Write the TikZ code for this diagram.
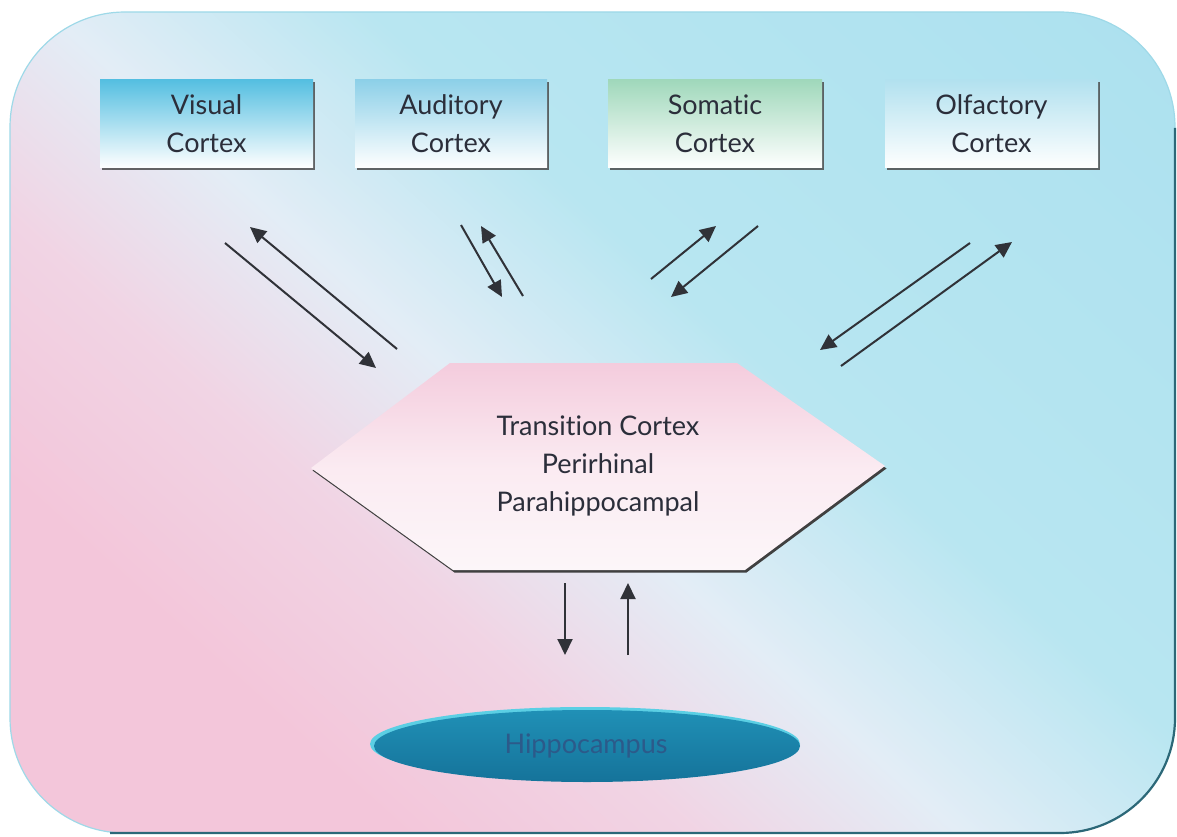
\documentclass[tikz,border=0pt]{standalone}
\usepackage{fontspec}
\setmainfont{Lato}[Ligatures=NoCommon]
\usetikzlibrary{arrows.meta,shadows}

\definecolor{bgpink}{HTML}{F3C6DA}
\definecolor{bgpinklight}{HTML}{F1D4E4}
\definecolor{bgpale}{HTML}{E3EDF6}
\definecolor{bgblue}{HTML}{B8E6F1}
\definecolor{bgbluedeep}{HTML}{A6DEEE}
\definecolor{rimlight}{HTML}{9ED9E8}
\definecolor{rimdark}{HTML}{2C6878}
\definecolor{inkdark}{HTML}{2B2E3A}
\definecolor{arrowink}{HTML}{303238}
\definecolor{visualtop}{HTML}{55BFE1}
\definecolor{audtop}{HTML}{8DD0E8}
\definecolor{somtop}{HTML}{A0D8BB}
\definecolor{olftop}{HTML}{B2E1EF}
\definecolor{hexpink}{HTML}{F4CCDD}
\definecolor{hexwhite}{HTML}{FCF6F9}
\definecolor{hippofill}{HTML}{2090B6}
\definecolor{hippodark}{HTML}{15739A}
\definecolor{hipporim}{HTML}{5BCFE4}
\definecolor{hippotext}{HTML}{2C5A8A}

\pgfdeclareverticalshading{backdrop}{100bp}{%
  color(0bp)=(bgpink); color(28bp)=(bgpink); color(38bp)=(bgpinklight);
  color(47bp)=(bgpale); color(58bp)=(bgblue); color(100bp)=(bgbluedeep)}

\tikzset{
  cortexbox/.style={minimum height=88pt, align=center,
    font=\fontsize{27}{38}\selectfont, text=inkdark, inner sep=0pt,
    bottom color=white, middle color=white!75!#1, top color=#1,
    drop shadow={shadow xshift=2pt, shadow yshift=-2.5pt, opacity=0.85, fill=black!70}},
  link/.style={draw=arrowink, line width=2pt,
    -{Triangle[length=16pt, width=15pt]}},
}

\begin{document}
\begin{tikzpicture}[x=1pt, y=-1pt]
\useasboundingbox (0,0) rectangle (1177,837);
\fill[white] (0,0) rectangle (1177,837);

% backdrop panel
\path[shading=backdrop, shading angle=-42, rounded corners=115pt]
  (10,12) rectangle (1175,833);
\draw[rimlight, line width=1.2pt, rounded corners=115pt]
  (10,12) rectangle (1175,833);
\draw[rimdark, line width=2.2pt, rounded corners=115pt]
  (1175,128) -- (1175,833) -- (110,833);

% cortex boxes
\node[cortexbox=visualtop, minimum width=213pt] (vis) at (206.5,124) {Visual\\Cortex};
\node[cortexbox=audtop, minimum width=192pt] (aud) at (451,124) {Auditory\\Cortex};
\node[cortexbox=somtop, minimum width=214pt] (som) at (715,124) {Somatic\\Cortex};
\node[cortexbox=olftop, minimum width=213pt] (olf) at (991.5,124) {Olfactory\\Cortex};

% transition cortex hexagon with its shadow
\coordinate (h1) at (450,363);
\coordinate (h2) at (737,363);
\coordinate (h3) at (885,466);
\coordinate (h4) at (745,570);
\coordinate (h5) at (453,570);
\coordinate (h6) at (311,468);
\begin{scope}[transform canvas={xshift=1.5pt, yshift=-2.5pt}]
  \fill[black!75] (h1) -- (h2) -- (h3) -- (h4) -- (h5) -- (h6) -- cycle;
\end{scope}
\shade[top color=hexpink, bottom color=hexwhite, middle color=hexpink!40!white]
  (h1) -- (h2) -- (h3) -- (h4) -- (h5) -- (h6) -- cycle;
\node[align=center, font=\fontsize{27}{38}\selectfont, text=inkdark] (trans) at (598,466)
  {Transition Cortex\\Perirhinal\\Parahippocampal};

% hippocampus
\fill[hipporim] (585,744) ellipse [x radius=215pt, y radius=37pt];
\shade[top color=hippofill, bottom color=hippodark]
  (587,746) ellipse [x radius=213pt, y radius=36pt];
\node[font=\fontsize{27}{30}\selectfont, text=hippotext] (hippo) at (586,746) {Hippocampus};

% connector end points
\coordinate (v1a) at (225,243);  \coordinate (v1b) at (376,368);
\coordinate (v2a) at (397,349);  \coordinate (v2b) at (250,227);
\coordinate (a1a) at (461,225);  \coordinate (a1b) at (502,297);
\coordinate (a2a) at (523,296);  \coordinate (a2b) at (481,226);
\coordinate (s1a) at (651,279);  \coordinate (s1b) at (716,226);
\coordinate (s2a) at (758,226);  \coordinate (s2b) at (671,297);
\coordinate (o1a) at (970,243);  \coordinate (o1b) at (820,350);
\coordinate (o2a) at (841,366);  \coordinate (o2b) at (1012,242);
\coordinate (p1a) at (565,583);  \coordinate (p1b) at (565,655);
\coordinate (p2a) at (628,655);  \coordinate (p2b) at (628,583);

\draw[link] (v1a) -- (v1b);
\draw[link] (v2a) -- (v2b);
\draw[link] (a1a) -- (a1b);
\draw[link] (a2a) -- (a2b);
\draw[link] (s1a) -- (s1b);
\draw[link] (s2a) -- (s2b);
\draw[link] (o1a) -- (o1b);
\draw[link] (o2a) -- (o2b);
\draw[link] (p1a) -- (p1b);
\draw[link] (p2a) -- (p2b);
\end{tikzpicture}
\end{document}
